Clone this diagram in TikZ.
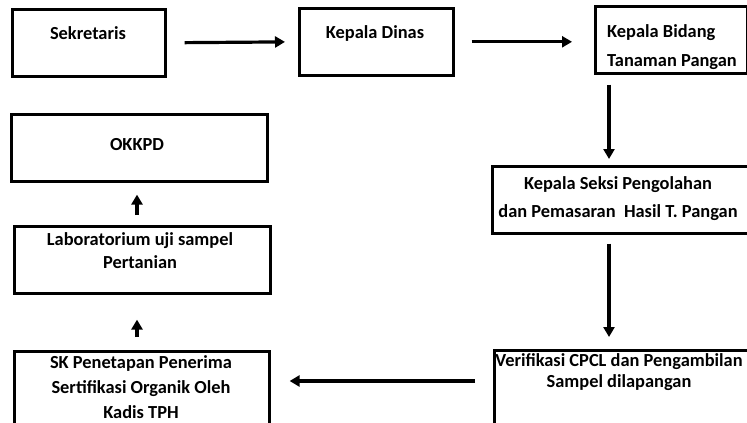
\documentclass[tikz,border=0pt]{standalone}
\usepackage{fontspec}
\setmainfont{Carlito}
\usetikzlibrary{arrows.meta,calc}

\tikzset{
    box/.style={draw=black, line width=2.6pt, rectangle, inner sep=0pt},
    txt/.style={inner sep=0pt, font=\bfseries\fontsize{18.4}{25}\selectfont, align=center},
    arr/.style={line width=3.2pt, -{Triangle[length=10pt,width=11pt]}}
}

\begin{document}
\begin{tikzpicture}[x=1pt,y=-1pt]
    \useasboundingbox (0,0) rectangle (747,423);
    \clip (0,0) rectangle (747,423);

    % Top row boxes
    \node[box, minimum width=153, minimum height=67, anchor=north west] (sek) at (11,8) {};
    \node[box, minimum width=154, minimum height=67, anchor=north west] (din) at (298,7) {};
    \node[box, minimum width=152, minimum height=67, anchor=north west] (bid) at (594,5) {};

    % Right column boxes
    \node[box, minimum width=258, minimum height=67, anchor=north west] (seksi) at (491,165) {};
    \node[box, minimum width=260, minimum height=82, anchor=north west] (ver) at (493,349) {};

    % Left column boxes
    \node[box, minimum width=255, minimum height=82, anchor=north west] (sk) at (13,350) {};
    \node[box, minimum width=256, minimum height=67, anchor=north west] (lab) at (13,225) {};
    \node[box, minimum width=256, minimum height=67, anchor=north west] (okk) at (10,113) {};

    % Texts
    \node[txt] (sekT) at (88,33) {Sekretaris};
    \node[txt] (dinT) at (375,33) {Kepala Dinas};
    \node[txt, anchor=west, align=left] (bidT) at (607,47.5) {Kepala Bidang\\[4pt]Tanaman Pangan};
    \node[txt] (seksiT) at (618,199) {Kepala Seksi Pengolahan\\[3pt]dan Pemasaran\ \ Hasil T. Pangan};
    \node[txt] (verT) at (619,372) {Verifikasi CPCL dan Pengambilan\\[-4pt]Sampel dilapangan};
    \node[txt] (skT) at (141,387) {SK Penetapan Penerima\\Sertifikasi Organik Oleh\\Kadis TPH};
    \node[txt] (labT) at (140,251) {Laboratorium uji sampel\\[-2pt]Pertanian};
    \node[txt] (okkT) at (137,145) {OKKPD};

    % Arrows
    \draw[arr, shorten <=18pt, shorten >=13pt] (sek.east) -- (din.west);
    \draw[arr, shorten <=17pt, shorten >=22pt] (din.east) -- (din.east -| bid.west);
    \draw[arr, shorten <=10pt, shorten >=6pt] ([xshift=15pt]bid.south west) -- ([xshift=15pt]bid.south west |- seksi.north);
    \draw[arr, shorten <=9pt, shorten >=12pt] ([xshift=118pt]seksi.south west) -- ([xshift=118pt]seksi.south west |- ver.north);
    \draw[arr, shorten <=18pt, shorten >=19pt] ([yshift=-32pt]ver.north west) -- ([yshift=-32pt]ver.north west -| sk.east);
    \draw[arr, shorten <=13pt, shorten >=25pt] ([xshift=124pt]sk.north west) -- ([xshift=124pt]sk.north west |- lab.south);
    \draw[arr, shorten <=10pt, shorten >=12pt] ([xshift=124pt]lab.north west) -- ([xshift=124pt]lab.north west |- okk.south);
\end{tikzpicture}
\end{document}
